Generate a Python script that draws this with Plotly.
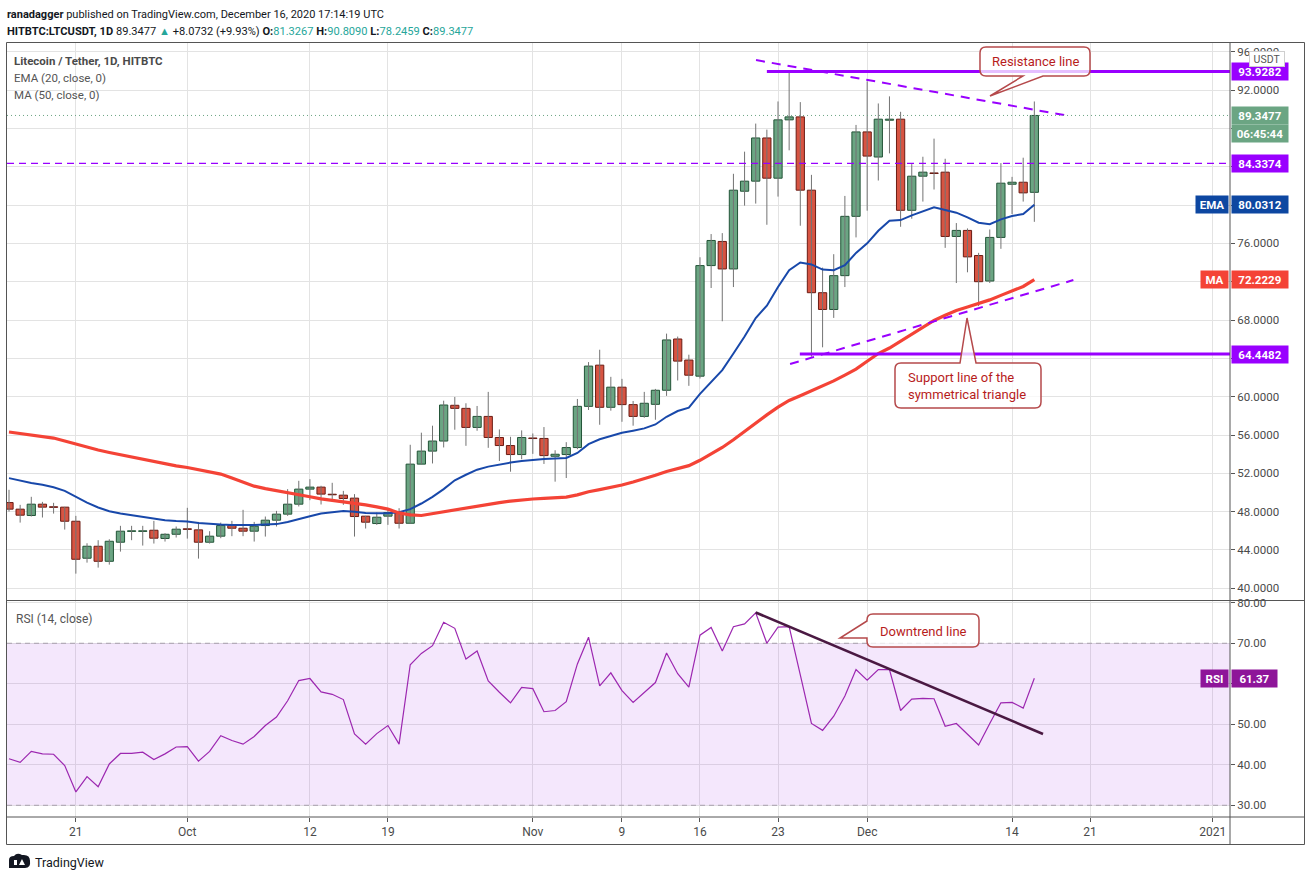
import datetime as dt
import plotly.graph_objects as go

# ---------------- data ----------------
start_date = dt.datetime(2020, 9, 15)
dates = [start_date + dt.timedelta(days=i) for i in range(93)]

opens = [48.95, 48.26, 47.60, 48.78, 48.49, 48.47, 47.00, 43.14, 44.39, 42.82,
         44.81, 45.94, 45.94, 46.06, 45.20, 45.64, 46.20, 46.10, 44.81, 45.44,
         46.55, 46.27, 45.96, 46.55, 47.11, 47.74, 48.78, 50.35, 50.56, 49.80,
         49.72, 49.41, 47.53, 46.76, 47.53, 47.91, 46.79, 52.96, 54.32, 55.37,
         59.10, 58.78, 56.79, 57.94, 55.74, 54.90, 53.96, 55.68, 55.64, 53.78,
         53.96, 54.69, 58.99, 63.29, 58.89, 60.99, 59.17, 57.94, 59.20, 60.67,
         66.02, 63.82, 62.14, 73.68, 76.20, 73.33, 81.44, 82.49, 87.00, 82.80,
         88.89, 89.20, 81.55, 70.85, 69.10, 72.63, 78.82, 87.63, 85.01, 88.85,
         88.96, 79.45, 83.01, 83.33, 83.43, 76.72, 77.35, 74.73, 72.07, 76.62,
         82.17, 82.38, 81.3267]
highs = [50.28, 48.71, 49.55, 49.02, 48.92, 48.50, 47.56, 44.70, 45.02, 45.12,
         46.52, 46.52, 46.52, 47.04, 45.75, 46.45, 48.40, 46.93, 45.96, 46.86,
         47.04, 48.19, 46.93, 47.49, 48.08, 50.35, 51.22, 51.39, 50.70, 51.01,
         50.17, 49.83, 47.56, 47.91, 48.36, 48.36, 54.98, 56.24, 56.97, 59.58,
         59.97, 59.31, 59.03, 60.50, 56.58, 55.81, 56.48, 56.16, 56.83, 54.41,
         55.25, 59.76, 63.61, 64.90, 62.07, 61.86, 59.55, 60.50, 60.81, 66.58,
         66.27, 64.38, 74.55, 76.97, 77.07, 83.26, 85.57, 88.50, 87.87, 90.81,
         93.96, 90.74, 83.15, 73.47, 74.87, 80.95, 88.36, 92.91, 90.60, 91.34,
         89.73, 84.27, 85.04, 86.93, 84.83, 78.12, 77.56, 75.01, 77.45, 84.38,
         82.94, 84.94, 90.8090]
lows = [48.01, 46.86, 47.49, 47.39, 47.80, 46.13, 41.53, 42.68, 42.16, 42.47,
        43.83, 45.02, 44.46, 44.67, 44.88, 45.30, 45.19, 43.10, 44.67, 45.23,
        45.44, 45.44, 44.88, 45.40, 46.45, 47.56, 48.54, 49.20, 48.75, 49.13,
        48.71, 45.40, 46.24, 46.62, 46.62, 46.24, 46.79, 52.96, 53.03, 54.70,
        56.55, 54.87, 56.44, 54.66, 53.29, 52.17, 53.47, 54.03, 52.98, 51.13,
        51.51, 54.52, 58.61, 57.07, 58.54, 57.38, 56.97, 57.80, 57.59, 60.08,
        61.69, 61.13, 61.90, 71.34, 67.87, 71.44, 79.94, 80.15, 77.94, 80.88,
        85.71, 77.84, 64.17, 65.15, 68.22, 71.44, 76.62, 79.41, 82.56, 85.39,
        77.73, 78.57, 80.36, 81.62, 75.53, 71.86, 72.98, 69.45, 71.86, 75.43,
        79.06, 80.36, 78.2459]
closes = [48.26, 47.63, 48.78, 48.47, 48.45, 47.00, 43.03, 44.39, 42.82, 44.91,
          45.96, 45.97, 45.97, 45.23, 45.64, 46.17, 46.15, 44.81, 45.44, 46.55,
          46.27, 45.96, 46.48, 47.11, 47.74, 48.78, 50.35, 50.56, 49.83, 49.76,
          49.37, 47.49, 46.90, 47.42, 47.91, 46.79, 52.96, 54.32, 55.37, 59.13,
          58.78, 56.79, 57.94, 55.74, 54.90, 53.96, 55.74, 55.63, 53.85, 53.99,
          54.69, 58.99, 63.19, 58.89, 60.99, 59.17, 57.94, 59.31, 60.67, 65.92,
          63.71, 62.24, 73.68, 76.30, 73.33, 81.55, 82.49, 87.00, 82.80, 88.89,
          89.20, 81.55, 70.85, 69.10, 72.63, 78.82, 87.63, 85.11, 88.96, 88.96,
          79.45, 83.01, 83.43, 83.29, 76.72, 77.35, 74.59, 72.00, 76.62, 82.28,
          82.38, 81.27, 89.3477]
ema20 = [51.50, 51.22, 51.00, 50.80, 50.55, 50.17, 49.55, 48.95, 48.43, 48.05,
         47.80, 47.62, 47.46, 47.27, 47.10, 47.02, 46.97, 46.82, 46.70, 46.65,
         46.62, 46.60, 46.62, 46.65, 46.70, 46.93, 47.25, 47.53, 47.80, 47.98,
         48.08, 48.00, 47.87, 47.84, 47.84, 47.94, 48.26, 48.85, 49.55, 50.35,
         51.27, 51.85, 52.38, 52.70, 52.94, 53.12, 53.29, 53.42, 53.50, 53.55,
         53.60, 54.13, 55.04, 55.55, 55.92, 56.23, 56.45, 56.69, 57.10, 57.90,
         58.50, 58.85, 60.29, 61.58, 62.77, 64.50, 66.27, 68.20, 69.50, 71.44,
         73.19, 74.00, 73.80, 73.26, 73.19, 73.72, 75.00, 76.00, 77.31, 78.36,
         78.43, 78.92, 79.34, 79.76, 79.48, 79.20, 78.71, 78.15, 78.00, 78.50,
         78.85, 79.06, 80.03]
ma50 = [56.31, 56.15, 56.03, 55.85, 55.68, 55.38, 55.05, 54.75, 54.43, 54.18,
        53.94, 53.70, 53.45, 53.20, 52.96, 52.78, 52.61, 52.40, 52.20, 51.92,
        51.50, 51.05, 50.66, 50.40, 50.17, 49.95, 49.76, 49.55, 49.34, 49.20,
        49.06, 48.88, 48.71, 48.50, 48.26, 47.87, 47.66, 47.60, 47.80, 48.00,
        48.20, 48.40, 48.60, 48.80, 48.95, 49.10, 49.25, 49.32, 49.38, 49.45,
        49.52, 49.75, 50.08, 50.30, 50.50, 50.78, 51.10, 51.41, 51.80, 52.20,
        52.50, 52.80, 53.36, 54.00, 54.70, 55.50, 56.40, 57.30, 58.10, 58.90,
        59.60, 60.10, 60.60, 61.10, 61.65, 62.25, 62.88, 63.70, 64.50, 65.08,
        65.80, 66.55, 67.30, 67.95, 68.50, 69.00, 69.35, 69.70, 70.10, 70.57,
        71.00, 71.50, 72.22]
rsi14 = [41.5, 40.6, 43.3, 42.7, 42.6, 39.8, 33.3, 37.1, 34.6, 40.2,
         42.8, 42.8, 43.1, 41.3, 42.7, 44.4, 44.5, 40.9, 43.3, 47.2,
         46.0, 45.1, 47.0, 49.7, 51.8, 55.8, 60.8, 61.3, 58.0, 57.4,
         56.1, 47.6, 45.1, 47.7, 49.7, 45.1, 64.7, 67.5, 69.4, 75.2,
         73.7, 66.1, 68.1, 60.7, 57.9, 55.3, 59.1, 58.8, 53.1, 53.4,
         55.6, 64.9, 71.5, 59.5, 62.7, 58.3, 55.4, 57.9, 60.3, 67.6,
         62.5, 59.2, 72.0, 73.9, 68.1, 74.1, 74.8, 77.5, 70.0, 74.0,
         74.1, 62.2, 50.2, 48.5, 52.0, 57.0, 63.5, 60.9, 63.5, 63.5,
         53.4, 56.2, 56.4, 56.3, 49.5, 50.2, 47.5, 44.9, 50.2, 55.3,
         55.4, 54.0, 61.37]

resistance_level = 93.9282
support_level = 64.4482
mid_level = 84.3374
last_price = 89.3477
ema_last = 80.0312
ma_last = 72.2229
rsi_last = 61.37

resist_line_dates = [dt.datetime(2020, 11, 21, 0, 40), dt.datetime(2020, 12, 19, 0, 30)]
resist_line_vals = [95.13, 89.32]
support_line_dates = [dt.datetime(2020, 11, 24, 2, 0), dt.datetime(2020, 12, 19, 12, 0)]
support_line_vals = [63.41, 72.17]
rsi_trend_dates = [dt.datetime(2020, 11, 21), dt.datetime(2020, 12, 16, 18, 40)]
rsi_trend_vals = [77.6, 47.6]

tick_dates = [dt.datetime(2020, 9, 21), dt.datetime(2020, 10, 1), dt.datetime(2020, 10, 12),
              dt.datetime(2020, 10, 19), dt.datetime(2020, 11, 1), dt.datetime(2020, 11, 9),
              dt.datetime(2020, 11, 16), dt.datetime(2020, 11, 23), dt.datetime(2020, 12, 1),
              dt.datetime(2020, 12, 14), dt.datetime(2020, 12, 21), dt.datetime(2021, 1, 1)]
tick_text = ["21", "Oct", "12", "19", "Nov", "9", "16", "23", "Dec", "14", "21", "2021"]
price_ticks = [40, 44, 48, 52, 56, 60, 68, 76, 92, 96]          # labelled ticks left visible
price_hidden_ticks = [64, 72, 80, 84, 88]                       # covered by the price tags
rsi_ticks = [30, 40, 50, 70, 80]
rsi_hidden_ticks = [60]

# ---------------- geometry / styles ----------------
FONT = "Roboto, Arial, sans-serif"
L, R, T, B = 7, 1230, 43, 817
X0, PXD = 9.0, 11.145


def px(X):
    return (X - L) / (R - L)


def py(Y):
    return (B - Y) / (B - T)


x_range = [start_date + dt.timedelta(days=(L - X0) / PXD), start_date + dt.timedelta(days=(R - X0) / PXD)]

UP_FILL, UP_LINE = "#6ba583", "#225437"
DN_FILL, DN_LINE = "#d75442", "#6b1c14"
WICK = "#737373"
PURPLE = "#9900ff"
GRID = "#e3e3e3"
AX_TXT = "#4a4a4a"
DAY_MS = 86400000

fig = go.Figure()

# wicks
wx, wy = [], []
for d, h, lo in zip(dates, highs, lows):
    wx += [d, d, None]
    wy += [lo, h, None]
fig.add_trace(go.Scatter(x=wx, y=wy, mode="lines", line=dict(color=WICK, width=1),
                         hoverinfo="skip", showlegend=False, xaxis="x", yaxis="y"))

up = [i for i in range(len(dates)) if closes[i] >= opens[i]]
dn = [i for i in range(len(dates)) if closes[i] < opens[i]]
fig.add_trace(go.Bar(x=[dates[i] for i in up], base=[opens[i] for i in up],
                     y=[max(closes[i] - opens[i], 0.06) for i in up], width=0.74 * DAY_MS,
                     marker=dict(color=UP_FILL, line=dict(color=UP_LINE, width=1)),
                     hoverinfo="skip", showlegend=False, xaxis="x", yaxis="y"))
fig.add_trace(go.Bar(x=[dates[i] for i in dn], base=[closes[i] for i in dn],
                     y=[max(opens[i] - closes[i], 0.06) for i in dn], width=0.74 * DAY_MS,
                     marker=dict(color=DN_FILL, line=dict(color=DN_LINE, width=1)),
                     hoverinfo="skip", showlegend=False, xaxis="x", yaxis="y"))

fig.add_trace(go.Scatter(x=dates, y=ema20, mode="lines", line=dict(color="#1848aa", width=2),
                         hoverinfo="skip", showlegend=False, xaxis="x", yaxis="y"))
fig.add_trace(go.Scatter(x=dates, y=ma50, mode="lines", line=dict(color="#f44336", width=3.2),
                         hoverinfo="skip", showlegend=False, xaxis="x", yaxis="y"))

fig.add_trace(go.Scatter(x=resist_line_dates, y=resist_line_vals, mode="lines",
                         line=dict(color=PURPLE, width=2, dash="9px,7px"),
                         hoverinfo="skip", showlegend=False, xaxis="x", yaxis="y"))
fig.add_trace(go.Scatter(x=support_line_dates, y=support_line_vals, mode="lines",
                         line=dict(color=PURPLE, width=2, dash="9px,7px"),
                         hoverinfo="skip", showlegend=False, xaxis="x", yaxis="y"))

# RSI
fig.add_trace(go.Scatter(x=dates, y=rsi14, mode="lines", line=dict(color="#9c27b0", width=1.2),
                         hoverinfo="skip", showlegend=False, xaxis="x2", yaxis="y2"))
fig.add_trace(go.Scatter(x=rsi_trend_dates, y=rsi_trend_vals, mode="lines",
                         line=dict(color="#4a1942", width=2.6),
                         hoverinfo="skip", showlegend=False, xaxis="x2", yaxis="y2"))

shapes = []
# RSI band & bounds
shapes.append(dict(type="rect", xref="x2", yref="y2", x0=x_range[0], x1=x_range[1], y0=30, y1=70,
                   fillcolor="rgba(163,55,232,0.12)", line=dict(width=0), layer="between"))
for lv in (70, 30):
    shapes.append(dict(type="line", xref="x2", yref="y2", x0=x_range[0], x1=x_range[1], y0=lv, y1=lv,
                       line=dict(color="#a8a0ac", width=1, dash="5px,4px"), layer="between"))
# levels
shapes.append(dict(type="line", xref="x", yref="y", x0=x_range[0], x1=x_range[1], y0=mid_level, y1=mid_level,
                   line=dict(color=PURPLE, width=1.3, dash="7px,5px")))
shapes.append(dict(type="line", xref="x", yref="y", x0=x_range[0], x1=x_range[1], y0=last_price, y1=last_price,
                   line=dict(color="#6ba583", width=1, dash="1px,3px")))
shapes.append(dict(type="line", xref="x", yref="y", x0=dt.datetime(2020, 11, 22), x1=x_range[1],
                   y0=resistance_level, y1=resistance_level, line=dict(color=PURPLE, width=3)))
shapes.append(dict(type="line", xref="x", yref="y", x0=dt.datetime(2020, 11, 24, 23), x1=x_range[1],
                   y0=support_level, y1=support_level, line=dict(color=PURPLE, width=3)))

# frame
BORDER = "#555555"
frame = [((6.5, 42.5), (1304.5, 42.5)), ((6.5, 844.5), (1304.5, 844.5)),
         ((6.5, 42.5), (6.5, 844.5)), ((1304.5, 42.5), (1304.5, 844.5)),
         ((1230, 42.5), (1230, 844.5)), ((6.5, 600.5), (1304.5, 600.5)),
         ((6.5, 817), (1304.5, 817))]
for (a, b) in frame:
    shapes.append(dict(type="line", xref="paper", yref="paper", x0=px(a[0]), y0=py(a[1]),
                       x1=px(b[0]), y1=py(b[1]), line=dict(color=BORDER, width=1)))


def path_from(cmds):
    out = []
    for c in cmds:
        if c[0] == "Z":
            out.append("Z")
        elif c[0] == "Q":
            (cx, cy), (x, y) = c[1], c[2]
            out.append(f"Q{px(cx):.5f},{py(cy):.5f} {px(x):.5f},{py(y):.5f}")
        else:
            x, y = c[1]
            out.append(f"{c[0]}{px(x):.5f},{py(y):.5f}")
    return " ".join(out)


CALL_LINE = "#b5494b"
callouts = [
    [("M", (986, 47)), ("L", (1084, 47)), ("Q", (1090, 47), (1090, 53)), ("L", (1090, 70)),
     ("Q", (1090, 76), (1084, 76)), ("L", (1043, 76)), ("L", (990, 96)), ("L", (1023, 76)),
     ("L", (986, 76)), ("Q", (980, 76), (980, 70)), ("L", (980, 53)), ("Q", (980, 47), (986, 47)), ("Z",)],
    [("M", (901, 363)), ("L", (960, 363)), ("L", (967, 318)), ("L", (976, 363)), ("L", (1035, 363)),
     ("Q", (1041, 363), (1041, 369)), ("L", (1041, 402)), ("Q", (1041, 408), (1035, 408)),
     ("L", (901, 408)), ("Q", (895, 408), (895, 402)), ("L", (895, 369)), ("Q", (895, 363), (901, 363)), ("Z",)],
    [("M", (873, 614)), ("L", (973, 614)), ("Q", (979, 614), (979, 620)), ("L", (979, 641)),
     ("Q", (979, 647), (973, 647)), ("L", (873, 647)), ("Q", (867, 647), (867, 641)), ("L", (867, 638)),
     ("L", (840, 638)), ("L", (867, 621)), ("L", (867, 620)), ("Q", (867, 614), (873, 614)), ("Z",)],
]
for c in callouts:
    shapes.append(dict(type="path", xref="paper", yref="paper", path=path_from(c),
                       fillcolor="rgba(255,255,255,0.75)", line=dict(color=CALL_LINE, width=1.5)))

# TradingView logo (simple)
shapes.append(dict(type="path", xref="paper", yref="paper", fillcolor="#131722", line=dict(width=0),
                   path=path_from([("M", (9, 868)), ("L", (9, 860)), ("Q", (9, 856), (14, 856)),
                                   ("Q", (17, 852), (22, 855)), ("Q", (30, 854), (30, 861)),
                                   ("Q", (31, 868), (25, 868)), ("Z",)])))
shapes.append(dict(type="path", xref="paper", yref="paper", fillcolor="#ffffff", line=dict(width=0),
                   path=path_from([("M", (14, 865)), ("L", (14, 860)), ("L", (17, 860)), ("L", (17, 865)), ("Z",),
                                   ("M", (19, 865)), ("L", (22, 859)), ("L", (25, 865)), ("Z",)])))

ann = []


def text_ann(X, Y, text, size=13, color="#131722", xanchor="left", align="left"):
    ann.append(dict(xref="paper", yref="paper", x=px(X), y=py(Y), text=text, showarrow=False,
                    xanchor=xanchor, yanchor="middle", align=align,
                    font=dict(family=FONT, size=size, color=color)))


TEAL = "#26a69a"
text_ann(5, 14, "<b>ranadagger</b> published on TradingView.com, December 16, 2020 17:14:19 UTC", 11)
text_ann(5, 32, "<b>HITBTC:LTCUSDT, 1D</b> 89.3477 <span style='color:%s'>▲</span> +8.0732 (+9.93%%) "
         "<b>O:</b><span style='color:%s'>81.3267</span> <b>H:</b><span style='color:%s'>90.8090</span> "
         "<b>L:</b><span style='color:%s'>78.2459</span> <b>C:</b><span style='color:%s'>89.3477</span>"
         % (TEAL, TEAL, TEAL, TEAL, TEAL), 11.1)
text_ann(12, 61, "<b>Litecoin / Tether, 1D, HITBTC</b>", 11.5, "#4a4a4a")
text_ann(12, 78, "EMA (20, close, 0)", 11.5, "#555555")
text_ann(12, 95, "MA (50, close, 0)", 11.5, "#555555")
text_ann(14, 619, "RSI (14, close)", 12, "#555555")
text_ann(33, 862, "TradingView", 12.5, "#131722")

text_ann(1035, 62, "Resistance line", 13, "#b71c1c", xanchor="center", align="center")
text_ann(906, 386, "Support line of the<br>symmetrical triangle", 13, "#b71c1c")
text_ann(923, 631, "Downtrend line", 13, "#b71c1c", xanchor="center", align="center")


def axis_label(text, yval, bg, yref="y", yshift=0):
    ann.append(dict(xref="paper", yref=yref, x=px(1230.5), y=yval, xanchor="left", yanchor="middle",
                    text="<b>%s</b>" % text, showarrow=False, bgcolor=bg, width=54, height=15,
                    borderpad=1, yshift=yshift, font=dict(family=FONT, size=11.5, color="#ffffff")))


def tag_label(text, yval, bg, width, yref="y"):
    ann.append(dict(xref="paper", yref=yref, x=px(1229), y=yval, xanchor="right", yanchor="middle",
                    text="<b>%s</b>" % text, showarrow=False, bgcolor=bg, width=width, height=15,
                    borderpad=1, font=dict(family=FONT, size=11.5, color="#ffffff")))


axis_label(f"{resistance_level:.4f}", resistance_level, PURPLE)
axis_label(f"{last_price:.4f}", last_price, "#6ba583")
axis_label("06:45:44", last_price, "#6ba583", yshift=-18)
axis_label(f"{mid_level:.4f}", mid_level, PURPLE)
axis_label(f"{ema_last:.4f}", ema_last, "#0d47a1")
tag_label("EMA", ema_last, "#0d47a1", 30)
axis_label(f"{ma_last:.4f}", ma_last, "#f44336")
tag_label("MA", ma_last, "#f44336", 25)
axis_label(f"{support_level:.4f}", support_level, PURPLE)
ann.append(dict(xref="paper", yref="y2", x=px(1230.5), y=rsi_last, xanchor="left", yanchor="middle",
                text="<b>%.2f</b>" % rsi_last, showarrow=False, bgcolor="#8e1599", width=43, height=15,
                borderpad=1, font=dict(family=FONT, size=11.5, color="#ffffff")))
tag_label("RSI", rsi_last, "#8e1599", 25, yref="y2")
ann.append(dict(xref="paper", yref="paper", x=px(1267), y=py(59), xanchor="center", yanchor="middle",
                text="USDT", showarrow=False, bgcolor="#ffffff", bordercolor="#cfcfcf", borderwidth=1,
                width=32, height=12, borderpad=1, font=dict(family=FONT, size=10.5, color="#555555")))

AXFONT = dict(family=FONT, size=11.5, color=AX_TXT)
fig.update_layout(
    width=1311, height=881, autosize=False,
    margin=dict(l=L, r=1311 - R, t=T, b=881 - B),
    paper_bgcolor="#ffffff", plot_bgcolor="#ffffff",
    barmode="overlay", showlegend=False,
    font=dict(family=FONT, size=12, color=AX_TXT),
    xaxis=dict(domain=[0, 1], anchor="y", type="date", range=x_range, tickvals=tick_dates,
               showticklabels=False, ticks="", showgrid=True, gridcolor=GRID, gridwidth=1,
               showline=False, zeroline=False, fixedrange=True),
    xaxis2=dict(domain=[0, 1], anchor="y2", type="date", range=x_range, matches="x",
                tickvals=tick_dates, ticktext=tick_text, ticks="outside", ticklen=4,
                tickcolor="#555555", showgrid=True, gridcolor=GRID, gridwidth=1,
                showline=False, zeroline=False, tickfont=dict(family=FONT, size=12, color=AX_TXT)),
    yaxis=dict(domain=[py(600), 1], anchor="x", side="right", range=[38.78, 96.91],
               tickvals=price_ticks, tickformat=".4f", ticks="outside", ticklen=4, tickcolor="#555555",
               showgrid=True, gridcolor=GRID, gridwidth=1, showline=False, zeroline=False,
               tickfont=AXFONT,
               minor=dict(tickvals=price_hidden_ticks, showgrid=True, gridcolor=GRID, gridwidth=1,
                          ticks="outside", ticklen=4, tickcolor="#555555")),
    yaxis2=dict(domain=[0, py(601)], anchor="x2", side="right", range=[27.11, 80.44],
                tickvals=rsi_ticks, tickformat=".2f", ticks="outside", ticklen=4, tickcolor="#555555",
                showgrid=True, gridcolor=GRID, gridwidth=1, showline=False, zeroline=False,
                tickfont=AXFONT,
                minor=dict(tickvals=rsi_hidden_ticks, showgrid=True, gridcolor=GRID, gridwidth=1,
                           ticks="outside", ticklen=4, tickcolor="#555555")),
    shapes=shapes, annotations=ann,
)

fig.write_html("out.html", config={"displayModeBar": False},
               post_script="document.body.style.margin='0';document.body.style.overflow='hidden';")
